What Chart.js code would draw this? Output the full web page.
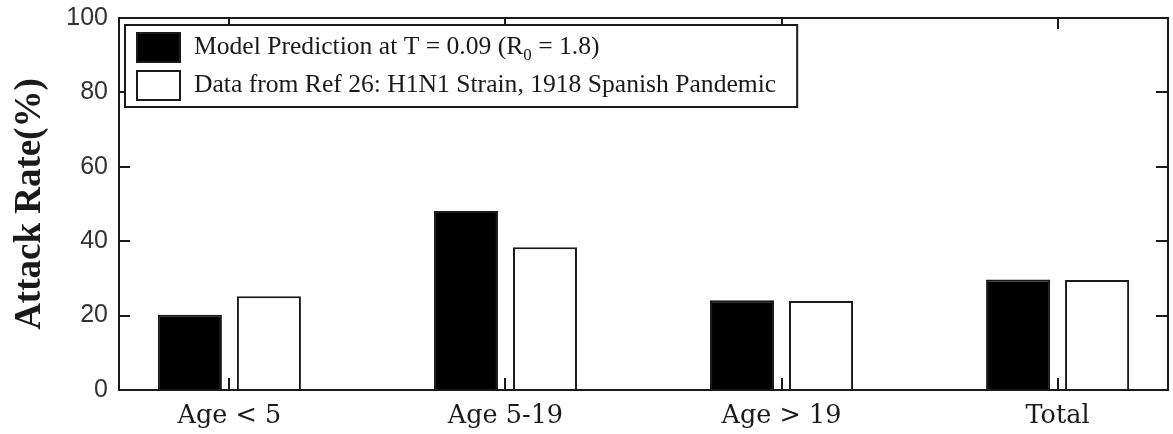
<!DOCTYPE html>
<html>
<head>
<meta charset="utf-8">
<script src="https://cdn.jsdelivr.net/npm/chart.js@4/dist/chart.umd.min.js"></script>
<style>
  html, body { margin: 0; padding: 0; background: #fff; }
  #wrap { width: 1173px; height: 434px; }
</style>
</head>
<body>
<div id="wrap"><canvas id="c" width="1173" height="434"></canvas></div>
<script>
// ---- data ----
const categories = ["Age < 5", "Age 5-19", "Age > 19", "Total"];
const modelPrediction = [20.2, 48.1, 24.1, 29.7];
const spanishPandemic = [25.2, 38.4, 23.9, 29.6];
const seriesLabels = [
  "Model Prediction at T = 0.09 (R\u2080 = 1.8)",
  "Data from Ref 26: H1N1 Strain, 1918 Spanish Pandemic"
];
const yTicks = [0, 20, 40, 60, 80, 100];
const yTitle = "Attack Rate(%)";

const INK = "#1a1a1a";

const toPoints = (vals) => vals.map((v, i) => ({ x: i + 1, y: v }));

// frame with inward ticks + boxed legend
const framePlugin = {
  id: "frame",
  afterDatasetsDraw(chart) {
    const { ctx, chartArea: a, scales } = chart;
    const xs = scales.x, ys = scales.y;
    ctx.save();
    ctx.strokeStyle = INK;
    ctx.lineWidth = 2;
    ctx.strokeRect(a.left, a.top, a.right - a.left, a.bottom - a.top);
    ctx.beginPath();
    yTicks.forEach(v => {
      const y = Math.round(ys.getPixelForValue(v));
      if (v === 0 || v === 100) return;
      ctx.moveTo(a.left, y); ctx.lineTo(a.left + 11, y);
      ctx.moveTo(a.right, y); ctx.lineTo(a.right - 12, y);
    });
    categories.forEach((c, i) => {
      const x = Math.round(xs.getPixelForValue(i + 1));
      ctx.moveTo(x, a.bottom); ctx.lineTo(x, a.bottom - 12);
      ctx.moveTo(x, a.top); ctx.lineTo(x, a.top + 11);
    });
    ctx.stroke();

    // legend
    const font = '25.6px "Liberation Serif"';
    const subFont = '17px "Liberation Serif"';
    ctx.font = font;
    const measure = (t) => {
      const k = t.indexOf("\u2080");
      ctx.font = font;
      if (k < 0) return ctx.measureText(t).width;
      let w = ctx.measureText(t.slice(0, k)).width + ctx.measureText(t.slice(k + 1)).width;
      ctx.font = subFont;
      w += ctx.measureText("0").width;
      ctx.font = font;
      return w;
    };
    const textW = Math.max(...seriesLabels.map(measure));
    const bx = a.left + 6, by = a.top + 7;
    const textX = bx + 69;
    const bw = textX - bx + textW + 21;
    const bh = 82;
    ctx.fillStyle = "#fff";
    ctx.fillRect(bx, by, bw, bh);
    ctx.lineWidth = 2;
    ctx.strokeRect(bx, by, bw, bh);
    const rows = [by + 22, by + 60];
    chart.data.datasets.forEach((ds, i) => {
      const cy = rows[i];
      ctx.fillStyle = ds.backgroundColor;
      ctx.fillRect(bx + 12, cy - 14, 43, 29);
      ctx.lineWidth = 2;
      ctx.strokeStyle = INK;
      ctx.strokeRect(bx + 12, cy - 14, 43, 29);
      ctx.fillStyle = INK;
      ctx.textBaseline = "middle";
      ctx.textAlign = "left";
      const t = ds.label;
      const k = t.indexOf("\u2080");
      ctx.font = font;
      if (k < 0) {
        ctx.fillText(t, textX, cy);
      } else {
        const p1 = t.slice(0, k);
        ctx.fillText(p1, textX, cy);
        let x = textX + ctx.measureText(p1).width;
        ctx.font = subFont;
        ctx.fillText("0", x, cy + 9);
        x += ctx.measureText("0").width;
        ctx.font = font;
        ctx.fillText(t.slice(k + 1), x, cy);
      }
    });
    ctx.restore();
  }
};

new Chart(document.getElementById("c"), {
  type: "bar",
  data: {
    datasets: [
      {
        label: seriesLabels[0],
        data: toPoints(modelPrediction),
        backgroundColor: "#000000",
        borderColor: INK,
        borderWidth: 2,
        categoryPercentage: 0.5725,
        barPercentage: 0.81
      },
      {
        label: seriesLabels[1],
        data: toPoints(spanishPandemic),
        backgroundColor: "#ffffff",
        borderColor: INK,
        borderWidth: 2,
        categoryPercentage: 0.5725,
        barPercentage: 0.81
      }
    ]
  },
  options: {
    responsive: false,
    animation: false,
    devicePixelRatio: 1,
    layout: { padding: { left: 0, right: 5, top: 18, bottom: 0 } },
    plugins: { legend: { display: false }, tooltip: { enabled: false } },
    scales: {
      x: {
        type: "linear",
        offset: false,
        min: 0.6,
        max: 4.4,
        grid: { display: false, drawTicks: false, offset: false },
        border: { display: false },
        afterBuildTicks(scale) {
          scale.ticks = categories.map((c, i) => ({ value: i + 1 }));
        },
        afterFit(scale) {
          scale.height = 44;
          scale.paddingLeft = 0; scale.paddingRight = 0;
        },
        ticks: {
          autoSkip: false,
          maxRotation: 0,
          padding: 11,
          color: INK,
          font: { family: "DejaVu Serif", size: 25.5 },
          callback: (v) => categories[Math.round(v) - 1] ?? ""
        }
      },
      y: {
        min: 0,
        max: 100,
        grid: { display: false, drawTicks: false },
        border: { display: false },
        afterBuildTicks(scale) {
          scale.ticks = yTicks.map(v => ({ value: v }));
        },
        afterFit(scale) {
          scale.width = 119;
          scale.paddingTop = 0; scale.paddingBottom = 0;
        },
        ticks: {
          padding: 11,
          color: "#333",
          font: { family: "Liberation Sans", size: 25 }
        },
        title: {
          display: true,
          text: yTitle,
          color: INK,
          padding: { top: 8, bottom: 0 },
          font: { family: "Liberation Serif", size: 37, weight: "bold" }
        }
      }
    }
  },
  plugins: [framePlugin]
});
</script>
</body>
</html>
